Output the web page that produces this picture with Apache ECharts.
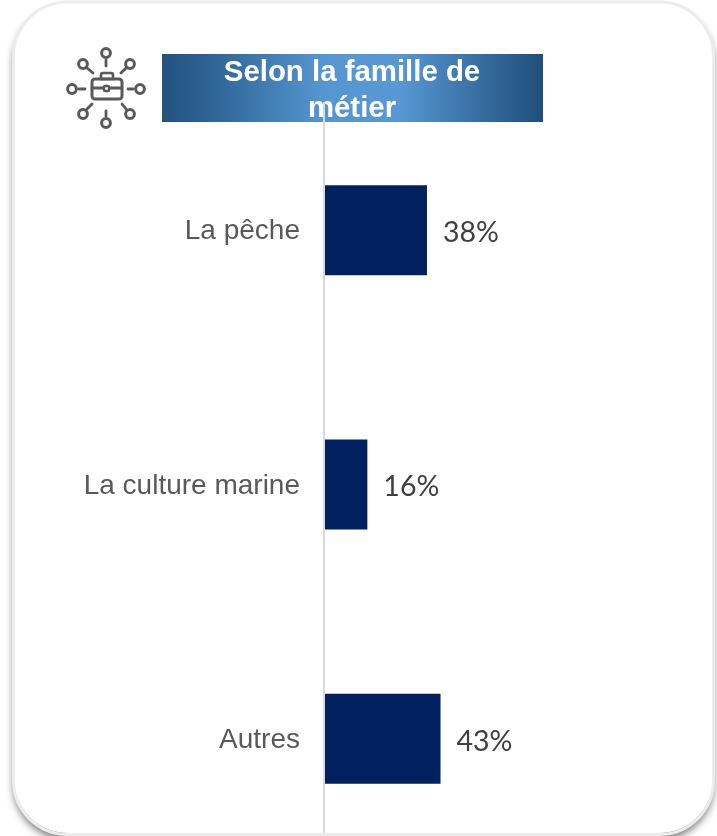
<!DOCTYPE html>
<html style="height: 100%">
<head>
    <meta charset="utf-8">
    <script src="https://cdn.jsdelivr.net/npm/echarts@6/dist/echarts.min.js"></script>
</head>
<body style="height: 100%; margin: 0; background: #fff">
<div id="container" style="width: 717px; height: 836px"></div>

<script type="text/javascript">
    var categories = ['La pêche', 'La culture marine', 'Autres'];
    var values = [38, 16, 43];
    var titleText = 'Selon la famille de\nmétier';

    var grey = '#595959';
    var myChart = echarts.init(document.getElementById('container'));

    // little briefcase icon, spokes and rings around it
    function ring(x, y) {
        return { type: 'circle', z: 5, shape: { cx: x, cy: y, r: 4.4 }, style: { fill: 'none', stroke: grey, lineWidth: 3 } };
    }
    function spoke(x1, y1, x2, y2) {
        return { type: 'line', z: 5, shape: { x1: x1, y1: y1, x2: x2, y2: y2 }, style: { stroke: grey, lineWidth: 2.8, lineCap: 'round' } };
    }
    var icon = [
        ring(106, 53), ring(106, 123), ring(72, 89), ring(140, 89),
        ring(83, 64), ring(130, 64), ring(83, 114), ring(130, 114),
        spoke(106, 60, 106, 66), spoke(106, 111, 106, 116), spoke(79, 89, 85, 89), spoke(128, 89, 133, 89),
        spoke(87, 68, 93, 73), spoke(126, 68, 121, 73), spoke(87, 109, 92, 104), spoke(126, 109, 122, 104),
        { type: 'rect', z: 5, shape: { x: 92, y: 79, width: 30, height: 20, r: 3 }, style: { fill: 'none', stroke: grey, lineWidth: 3 } },
        { type: 'rect', z: 5, shape: { x: 101, y: 73, width: 12, height: 6, r: [2, 2, 0, 0] }, style: { fill: 'none', stroke: grey, lineWidth: 2.6 } },
        spoke(92, 88, 103, 88), spoke(110, 88, 122, 88),
        { type: 'rect', z: 5, shape: { x: 104, y: 86, width: 5, height: 5, r: 1 }, style: { fill: 'none', stroke: grey, lineWidth: 2.4 } }
    ];

    // shadow and pale frame are separate, a stroke with shadow darkens the inside
    var cardShadow = {
        type: 'rect', z: -10,
        shape: { x: 14, y: 3, width: 699, height: 830, r: 54 },
        style: { fill: '#fff', shadowBlur: 9, shadowOffsetY: 6, shadowColor: 'rgba(0,0,0,0.6)' }
    };
    var cardFrame = {
        type: 'rect', z: 10,
        shape: { x: 13.5, y: 2, width: 700, height: 832.5, r: 54 },
        style: { fill: 'none', stroke: '#ececec', lineWidth: 3 }
    };
    var banner = {
        type: 'rect', z: -5,
        shape: { x: 162, y: 54, width: 381, height: 68 },
        style: {
            fill: new echarts.graphic.LinearGradient(0, 0, 1, 0, [
                { offset: 0, color: '#24527f' },
                { offset: 0.12, color: '#2d6394' },
                { offset: 0.42, color: '#5595d0' },
                { offset: 0.62, color: '#5898d4' },
                { offset: 0.88, color: '#2f6596' },
                { offset: 1, color: '#214e7a' }
            ])
        }
    };
    var title = {
        type: 'text', z: -1,
        x: 352, y: 91,
        style: {
            text: titleText, fill: '#fff',
            font: 'bold 29.4px "Liberation Sans"',
            lineHeight: 36, align: 'center', verticalAlign: 'middle'
        }
    };

    myChart.setOption({
        animation: false,
        grid: { left: 324, top: 103, width: 271, height: 763, outerBoundsMode: 'none' },
        xAxis: { type: 'value', min: 0, max: 100, show: false },
        yAxis: {
            type: 'category',
            inverse: true,
            z: 3,
            data: categories,
            axisTick: { show: false },
            axisLine: { lineStyle: { color: '#d9d9d9', width: 2 } },
            axisLabel: { margin: 24, verticalAlign: 'top', lineHeight: 3, fontFamily: 'Liberation Sans', fontSize: 28, color: grey }
        },
        series: [{
            type: 'bar',
            data: values,
            barWidth: 90,
            itemStyle: { color: '#002060' },
            label: {
                show: true,
                position: 'right',
                distance: 16,
                offset: [0, 2.5],
                formatter: '{c}%',
                fontFamily: 'Lato',
                fontSize: 28.5,
                color: '#404040'
            }
        }],
        graphic: [cardShadow, banner, title, cardFrame].concat(icon)
    });
</script>
</body>
</html>
